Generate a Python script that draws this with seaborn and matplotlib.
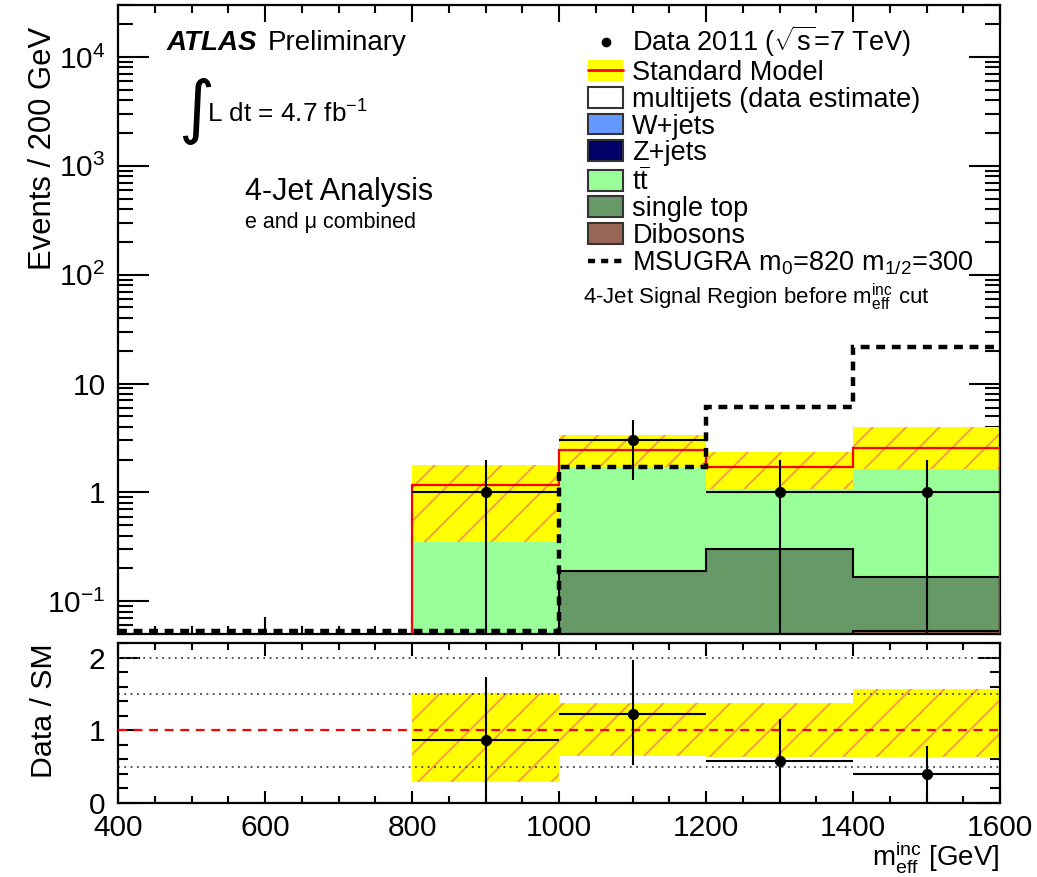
import numpy as np
import matplotlib
matplotlib.use("Agg")
import matplotlib.pyplot as plt
import seaborn as sns
from matplotlib.patches import Patch
from matplotlib.lines import Line2D
from matplotlib.ticker import MultipleLocator, LogLocator, NullFormatter

# ---------------- data ----------------
bin_edges = [800, 1000, 1200, 1400, 1600]
msugra_edges = [400, 600, 800, 1000, 1200, 1400, 1600]

dibosons = [0.0, 0.0, 0.0, 0.053]
single_top = [0.0, 0.19, 0.30, 0.113]
ttbar = [0.35, 1.51, 0.78, 1.464]
zjets = [0.01, 0.01, 0.01, 0.01]
wjets = [0.40, 0.40, 0.30, 0.45]
multijets = [0.40, 0.33, 0.32, 0.44]

sm_total = [1.16, 2.44, 1.71, 2.53]
band_hi = [1.77, 3.33, 2.36, 3.97]
band_lo = [0.35, 1.70, 1.08, 1.63]

msugra = [0.053, 0.053, 0.053, 1.70, 6.1, 21.5]

data_x = [900, 1100, 1300, 1500]
data_y = [1, 3, 1, 1]
data_up = [0.97, 1.67, 0.97, 0.97]
data_dn = [1.0, 1.71, 1.0, 1.0]
data_xerr = [100, 100, 100, 100]

ratio_y = [0.86, 1.23, 0.58, 0.40]
ratio_up = [0.87, 0.74, 0.58, 0.39]
ratio_dn = [0.86, 0.71, 0.58, 0.40]
ratio_band_hi = [1.51, 1.37, 1.38, 1.57]
ratio_band_lo = [0.29, 0.65, 0.635, 0.635]
ratio_grid = [0.5, 1.5, 2.0]

x_ticks = [400, 600, 800, 1000, 1200, 1400, 1600]
y_ticks = [0.1, 1, 10, 100, 1000, 10000]
y_tick_labels = ["10$^{-1}$", "1", "10", "10$^{2}$", "10$^{3}$", "10$^{4}$"]
r_ticks = [0, 1, 2]

stack_names = ["Dibosons", "single top", "ttbar", "Z+jets", "W+jets",
               "multijets (data estimate)"]
stack_vals = [dibosons, single_top, ttbar, zjets, wjets, multijets]
stack_cols = ["#996655", "#669966", "#99ff99", "#000066", "#6699ff", "#ffffff"]

# ---------------- style ----------------
sns.set_theme(style="ticks")
plt.rcParams["font.family"] = ["Liberation Sans", "DejaVu Sans"]
plt.rcParams["mathtext.fontset"] = "custom"
plt.rcParams["mathtext.rm"] = "Liberation Sans"
plt.rcParams["mathtext.it"] = "Liberation Sans:italic"
plt.rcParams["mathtext.bf"] = "Liberation Sans:bold"
plt.rcParams["hatch.linewidth"] = 1.3
plt.rcParams["axes.linewidth"] = 1.6
for k in ["text.color", "axes.labelcolor", "xtick.color", "ytick.color", "axes.edgecolor"]:
    plt.rcParams[k] = "black"

W, H = 1037, 877
fig = plt.figure(figsize=(W / 100, H / 100), dpi=100)


def fx(x):
    return x / W


def fy(y):
    return 1 - y / H


ax = fig.add_axes([fx(118), fy(634), fx(1000) - fx(118), fy(5) - fy(634)])
axr = fig.add_axes([fx(118), fy(803), fx(1000) - fx(118), fy(643) - fy(803)])

y_min, y_max = 0.05, 3.0e4
ax.set_yscale("log")
ax.set_ylim(y_min, y_max)
ax.set_xlim(400, 1600)

# stack
cum = np.zeros(len(bin_edges) - 1)
for vals, col, name in zip(stack_vals, stack_cols, stack_names):
    top = cum + np.array(vals)
    ax.stairs(top, bin_edges, baseline=cum.copy(), fill=True, facecolor=col,
              edgecolor="none", linewidth=0, zorder=1)
    if name in ("Dibosons", "single top"):
        ax.stairs(top, bin_edges, baseline=None, color="black", lw=1.5, zorder=1.5)
    cum = top

# uncertainty band
ax.stairs(band_hi, bin_edges, baseline=band_lo, fill=True, facecolor="#ffff00",
          edgecolor="#f59a45", hatch="/", linewidth=0, zorder=2)
# SM line
ax.stairs(sm_total, bin_edges, baseline=y_min * 0.01, color="#ff0000", lw=1.6, zorder=3)
# MSUGRA
ax.stairs(msugra, msugra_edges, baseline=None, color="black", lw=3.2,
          linestyle=(0, (2.0, 1.5)), zorder=4)
# data
ax.errorbar(data_x, data_y, xerr=data_xerr, yerr=[data_dn, data_up], fmt="none",
            ecolor="black", elinewidth=1.5, capsize=0, zorder=5)
sns.scatterplot(x=data_x, y=data_y, ax=ax, color="black", s=55, edgecolor="black",
                zorder=6, legend=False)

ax.set_yticks(y_ticks, y_tick_labels)
ax.yaxis.set_minor_locator(LogLocator(base=10, subs=np.arange(2, 10) * 1.0, numticks=20))
ax.yaxis.set_minor_formatter(NullFormatter())
ax.set_xticks(x_ticks)
ax.xaxis.set_minor_locator(MultipleLocator(50))
ax.tick_params(axis="x", labelbottom=False)
ax.tick_params(which="both", direction="in", top=True, right=True, width=1.5, color="black")
ax.tick_params(axis="y", which="major", length=22, labelsize=21.5, pad=9)
ax.tick_params(axis="y", which="minor", length=11)
ax.tick_params(axis="x", which="major", length=12)
ax.tick_params(axis="x", which="minor", length=6)
ax.set_xlabel("")
ax.set_ylabel("Events / 200 GeV", fontsize=22.3, loc="top")
ax.yaxis.set_label_coords(-0.068, 0.965)

# legend
handles = [
    Line2D([], [], marker="o", color="black", ls="none", markersize=6),
    (Patch(facecolor="#ffff00", edgecolor="none"), Line2D([], [], color="#ff0000", lw=2)),
    Patch(facecolor="#ffffff", edgecolor="#333333", lw=1.5),
    Patch(facecolor="#6699ff", edgecolor="#333333", lw=1.5),
    Patch(facecolor="#000066", edgecolor="#333333", lw=1.5),
    Patch(facecolor="#99ff99", edgecolor="#333333", lw=1.5),
    Patch(facecolor="#669966", edgecolor="#333333", lw=1.5),
    Patch(facecolor="#996655", edgecolor="#333333", lw=1.5),
    Line2D([], [], color="black", lw=3.2, ls=(0, (1.6, 1.35))),
]
labels = [
    r"Data 2011 ($\sqrt{\rm s}$=7 TeV)",
    "Standard Model",
    "multijets (data estimate)",
    "W+jets",
    "Z+jets",
    r"$\mathrm{t}\overline{\mathrm{t}}$",
    "single top",
    "Dibosons",
    r"MSUGRA m$_{0}$=820 m$_{1/2}$=300",
]
leg = ax.legend(handles, labels, loc="upper left", bbox_to_anchor=(0.533, 0.970),
                frameon=False, fontsize=19.5, handlelength=1.3, handleheight=0.8,
                handletextpad=0.33, labelspacing=0.025, borderpad=0, borderaxespad=0)

# texts
t_atlas = fig.text(fx(167), fy(43), "ATLAS", fontsize=20, fontweight="bold",
                   fontstyle="italic", va="center", ha="left")
fig.canvas.draw()
bb = t_atlas.get_window_extent()
fig.text((bb.x1 + 10) / W, fy(43), "Preliminary", fontsize=20, va="center", ha="left")
fig.text(fx(196), fy(111), "\u222b", fontsize=50, va="center", ha="center",
         family=["DejaVu Sans"])
fig.text(fx(207), fy(123), "L dt = 4.7 fb$^{-1}$", fontsize=18.8, va="baseline", ha="left")
fig.text(fx(245), fy(200), "4-Jet Analysis", fontsize=22, va="baseline", ha="left")
fig.text(fx(245), fy(228), "e and \u03bc combined", fontsize=15.5, va="baseline", ha="left")
fig.text(fx(583), fy(304), r"4-Jet Signal Region before m$_{\rm eff}^{\rm inc}$ cut",
         fontsize=16, va="baseline", ha="left")

# ---------------- ratio panel ----------------
axr.set_xlim(400, 1600)
axr.set_ylim(0, 2.2)
axr.stairs(ratio_band_hi, bin_edges, baseline=ratio_band_lo, fill=True, facecolor="#ffff00",
           edgecolor="#f59a45", hatch="/", linewidth=0, zorder=1)
for g in ratio_grid:
    axr.axhline(g, color="#444444", lw=1.3, ls=(0, (1, 2.5)), zorder=2)
axr.axhline(1.0, color="#ff0000", lw=1.6, ls=(0, (4, 3)), zorder=3)
axr.errorbar(data_x, ratio_y, xerr=data_xerr, yerr=[ratio_dn, ratio_up], fmt="none",
             ecolor="black", elinewidth=1.5, capsize=0, zorder=5)
sns.scatterplot(x=data_x, y=ratio_y, ax=axr, color="black", s=55, edgecolor="black",
                zorder=6, legend=False)

axr.set_xticks(x_ticks)
axr.xaxis.set_minor_locator(MultipleLocator(50))
axr.set_yticks(r_ticks)
axr.yaxis.set_minor_locator(MultipleLocator(0.2))
axr.tick_params(which="both", direction="in", top=True, right=True, width=1.5, color="black")
axr.tick_params(axis="y", which="major", length=16, labelsize=21.5, pad=9)
axr.tick_params(axis="y", which="minor", length=7)
axr.tick_params(axis="x", which="major", length=9, labelsize=21.5, pad=8)
axr.tick_params(axis="x", which="minor", length=5)
axr.set_ylabel("Data / SM", fontsize=21.8)
axr.yaxis.set_label_coords(-0.068, 0.58)
axr.set_xlabel(r"m$_{\rm eff}^{\rm inc}$ [GeV]", fontsize=20, loc="right")
axr.xaxis.set_label_coords(1.0, -0.225)

fig.savefig("out.png", dpi=100)
